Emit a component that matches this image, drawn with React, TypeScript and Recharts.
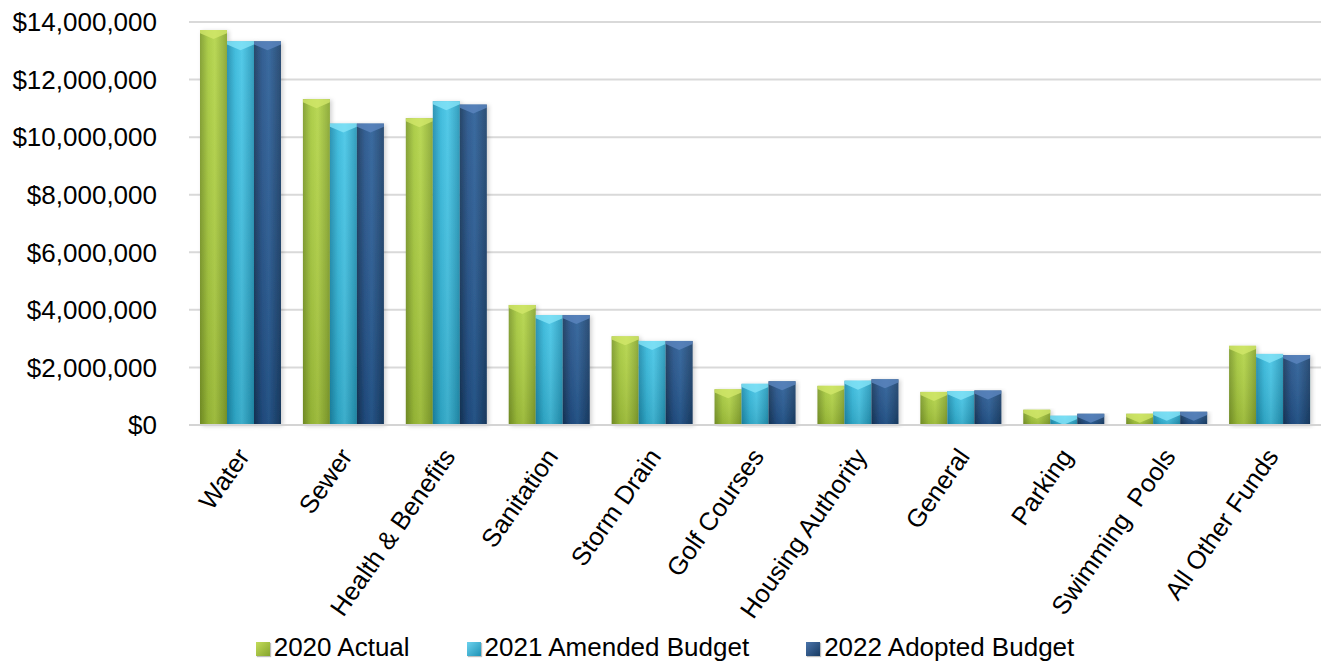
import React from 'react';
import { BarChart, Bar, XAxis, YAxis, CartesianGrid, Legend } from 'recharts';

// Fund categories and yearly amounts (USD)
const categories = [
  'Water',
  'Sewer',
  'Health & Benefits',
  'Sanitation',
  'Storm Drain',
  'Golf Courses',
  'Housing Authority',
  'General',
  'Parking',
  'Swimming  Pools',
  'All Other Funds',
];
const actual2020 = [13720000, 11320000, 10660000, 4170000, 3080000, 1240000, 1360000, 1150000, 530000, 390000, 2750000];
const amended2021 = [13330000, 10470000, 11250000, 3820000, 2920000, 1430000, 1540000, 1180000, 320000, 460000, 2470000];
const adopted2022 = [13330000, 10470000, 11130000, 3820000, 2920000, 1520000, 1590000, 1200000, 390000, 460000, 2430000];
const yTicks = [0, 2000000, 4000000, 6000000, 8000000, 10000000, 12000000, 14000000];

const seriesNames = ['2020 Actual', '2021 Amended Budget', '2022 Adopted Budget'];

const data = categories.map((name, i) => ({
  name,
  a2020: actual2020[i],
  a2021: amended2021[i],
  a2022: adopted2022[i],
}));

const FONT = '"Liberation Sans", Arial, sans-serif';
const W = 1321;
const H = 661;

const tones = {
  g: { edgeL: '#7d9b29', mid: '#a6c93c', hi: '#b3d447', edgeR: '#86a52e', cap: '#d2e76a', swatch: ['#c3dc5a', '#86a52e'] },
  c: { edgeL: '#1d8cae', mid: '#33b7da', hi: '#45c5e6', edgeR: '#2396b8', cap: '#84e4f7', swatch: ['#6cd2ee', '#1f93b6'] },
  d: { edgeL: '#16375c', mid: '#23528a', hi: '#2a5e97', edgeR: '#1a3f69', cap: '#5b86bf', swatch: ['#4a74aa', '#183b63'] },
};

const CylBar = (props: any) => {
  const { x, y, width, height, tone } = props;
  if (!height || height <= 0) return null;
  const capH = Math.min(9, height);
  return (
    <g filter="url(#barShadow)">
      <rect x={x} y={y} width={width} height={height} fill={`url(#h-${tone})`} />
      <rect x={x} y={y} width={width} height={height} fill="url(#vShade)" />
      <path
        d={`M${x},${y} L${x + width},${y} L${x + width},${y + capH * 0.35} L${x + width / 2},${y + capH} L${x},${y + capH * 0.35} Z`}
        fill={(tones as any)[tone].cap}
        opacity={0.8}
      />
    </g>
  );
};

const XTick = (props: any) => {
  const { x, y, payload } = props;
  return (
    <g transform={`translate(${x - 5},${y + 21})`}>
      <text
        x={0}
        y={0}
        dy="0.72em"
        textAnchor="end"
        transform="rotate(-55)"
        fontSize={25.5}
        fontFamily={FONT}
        fill="#000"
        style={{ whiteSpace: 'pre' }}
      >
        {payload.value}
      </text>
    </g>
  );
};

const fmtMoney = (v: number) => '$' + v.toLocaleString('en-US');

const LegendBox = () => {
  const keys = ['g', 'c', 'd'];
  return (
    <div
      style={{
        height: 34,
        boxSizing: 'border-box',
        paddingTop: 5,
        paddingLeft: 9,
        display: 'flex',
        justifyContent: 'center',
        alignItems: 'center',
        gap: 57,
        fontFamily: FONT,
        fontSize: 26,
        lineHeight: '28px',
        color: '#000',
      }}
    >
      {seriesNames.map((n, i) => {
        const t = (tones as any)[keys[i]];
        return (
          <div key={n} style={{ display: 'flex', alignItems: 'center' }}>
            <span
              style={{
                width: 14,
                height: 14,
                marginRight: 4,
                marginTop: 4,
                background: `linear-gradient(135deg, ${t.swatch[0]}, ${t.swatch[1]})`,
                boxShadow: '1px 1px 1px rgba(0,0,0,0.25)',
                display: 'inline-block',
              }}
            />
            <span>{n}</span>
          </div>
        );
      })}
    </div>
  );
}

export default function App() {
  return (
    <div style={{ width: W, height: H, background: '#fff' }}>
      <style>{'html,body{margin:0;padding:0;overflow:hidden;background:#fff}'}</style>
      <BarChart
        width={W}
        height={H}
        data={data}
        margin={{ top: 22, right: 0, bottom: 0, left: 0 }}
        barGap={0}
        barSize={27}
      >
        <defs>
          {Object.entries(tones).map(([k, t]) => (
            <linearGradient key={k} id={`h-${k}`} x1="0" y1="0" x2="1" y2="0">
              <stop offset="0%" stopColor={t.edgeL} />
              <stop offset="30%" stopColor={t.mid} />
              <stop offset="55%" stopColor={t.hi} />
              <stop offset="100%" stopColor={t.edgeR} />
            </linearGradient>
          ))}
          <linearGradient id="vShade" x1="0" y1="0" x2="0" y2="1">
            <stop offset="0%" stopColor="#ffffff" stopOpacity={0.08} />
            <stop offset="100%" stopColor="#000000" stopOpacity={0.12} />
          </linearGradient>
          <filter id="barShadow" x="-20%" y="-5%" width="140%" height="110%">
            <feDropShadow dx="2" dy="1" stdDeviation="2" floodColor="#000" floodOpacity="0.18" />
          </filter>
        </defs>
        <CartesianGrid vertical={false} stroke="#d9d9d9" strokeWidth={2} />
        <XAxis
          dataKey="name"
          interval={0}
          height={202}
          tickSize={0}
          tickMargin={0}
          tickLine={false}
          axisLine={{ stroke: '#d4d4d4', strokeWidth: 2 }}
          tick={<XTick />}
        />
        <YAxis
          width={189}
          domain={[0, 14000000]}
          ticks={yTicks}
          tickFormatter={fmtMoney}
          axisLine={false}
          tickLine={false}
          tickSize={0}
          tickMargin={32}
          tick={{ fontSize: 26, fontFamily: FONT, fill: '#000' }}
        />
        <Legend verticalAlign="bottom" content={<LegendBox />} />
        <Bar dataKey="a2020" name={seriesNames[0]} isAnimationActive={false} shape={(p: any) => <CylBar {...p} tone="g" />} />
        <Bar dataKey="a2021" name={seriesNames[1]} isAnimationActive={false} shape={(p: any) => <CylBar {...p} tone="c" />} />
        <Bar dataKey="a2022" name={seriesNames[2]} isAnimationActive={false} shape={(p: any) => <CylBar {...p} tone="d" />} />
      </BarChart>
    </div>
  );
}
